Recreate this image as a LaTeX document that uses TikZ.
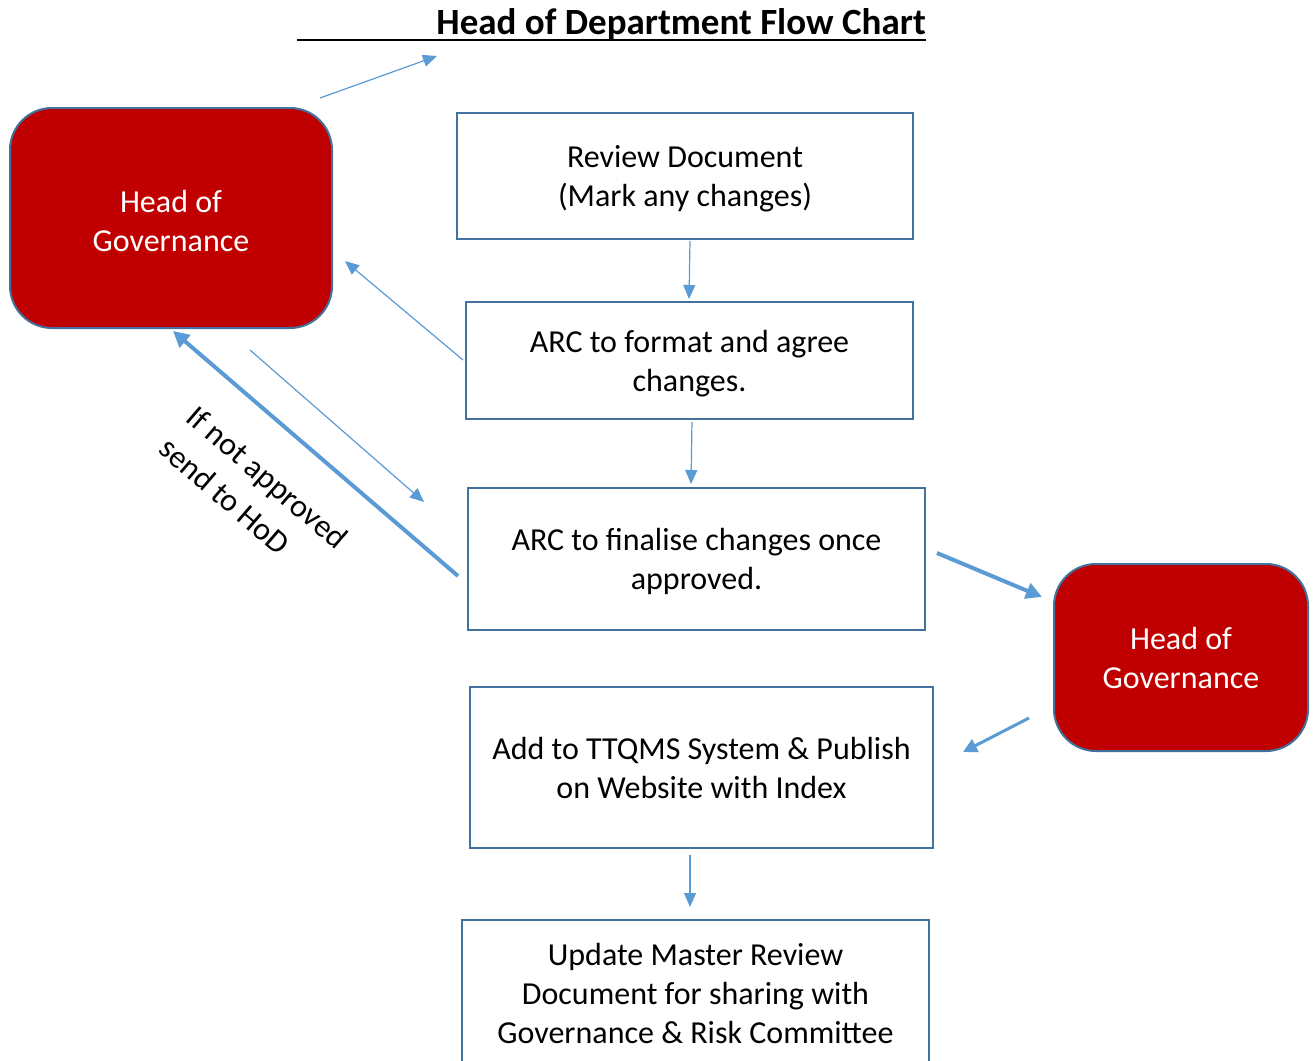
\documentclass[tikz,border=0pt]{standalone}
\usepackage{fontspec}
\setmainfont{Carlito}
\usetikzlibrary{arrows.meta}
\definecolor{boxline}{HTML}{41719C}
\definecolor{arr}{HTML}{5B9BD5}
\definecolor{hred}{HTML}{C00000}
\newcommand{\mystrut}{\rule{0pt}{28pt}}
\tikzset{
  stepbox/.style={draw=boxline, line width=2pt, fill=white, align=center, inner sep=0pt, font=\fontsize{32}{39}\selectfont},
  govbox/.style={draw=boxline, line width=2pt, fill=hred, rounded corners=42pt, align=center, inner sep=0pt, text=white, font=\fontsize{32}{39}\selectfont},
  thinarr/.style={draw=arr, line width=1.2pt, -{Triangle[length=14pt,width=12pt]}},
  thickarr/.style={draw=arr, line width=4pt, -{Triangle[length=16pt,width=16pt]}},
  medarr/.style={draw=arr, line width=3pt, -{Triangle[length=14pt,width=14pt]}},
}
\begin{document}
\begin{tikzpicture}[x=1pt,y=-1pt]
\clip (0,0) rectangle (1314,1060);
\fill[white] (0,0) rectangle (1314,1060);

% title
\node[anchor=base east, inner sep=0pt, font=\fontsize{37}{42}\selectfont\bfseries] (title) at (926,34) {Head of Department Flow Chart};
\coordinate (ulstart) at (297,40);
\draw[line width=2.2pt] (ulstart) -- (title.base east |- ulstart);

% nodes
\node[govbox, minimum width=322pt, minimum height=220pt] (hog1) at (171,218) {\mystrut Head of\\Governance};
\node[stepbox, minimum width=456pt, minimum height=126pt] (b1) at (685,176) {\mystrut Review Document\\(Mark any changes)};
\node[stepbox, minimum width=447pt, minimum height=117pt] (b2) at (689.5,360.5) {\mystrut ARC to format and agree\\changes.};
\node[stepbox, minimum width=457pt, minimum height=142pt] (b3) at (696.5,559) {\mystrut ARC to finalise changes once\\approved.};
\node[govbox, minimum width=254pt, minimum height=187pt] (hog2) at (1181,657.5) {Head of\\Governance};
\node[stepbox, minimum width=463pt, minimum height=161pt] (b4) at (701.5,767.5) {Add to TTQMS System \& Publish\\on Website with Index};
\node[stepbox, minimum width=467pt, minimum height=170pt, anchor=north] (b5) at (695.5,919) {};
\node[font=\fontsize{32}{39}\selectfont, align=center, inner sep=0pt] (b5t) at (695.5,993) {Update Master Review\\Document for sharing with\\Governance \& Risk Committee};

% free ends / coordinates
\coordinate (t1s) at (320,98);
\coordinate (t1e) at (437,56);
\coordinate (a2s) at (463,360);
\coordinate (a2e) at (345,261);
\coordinate (a3s) at (250,350);
\coordinate (a3e) at (424,502);
\coordinate (a4s) at (458,576);
\coordinate (a4e) at (173,331);
\coordinate (a5s) at (937,553);
\coordinate (a5e) at (1042,597);
\coordinate (a6s) at (1029,718);
\coordinate (a6e) at (963,752);

% connectors
\draw[thinarr] (t1s) -- (t1e);
\draw[thinarr, shorten <=1pt, shorten >=2pt] (b1.south -| 690,0) -- (b2.north -| 689,0);
\draw[thinarr, shorten <=2pt, shorten >=3pt] (b2.south -| 692,0) -- (b3.north -| 691,0);
\draw[thinarr] (a2s) -- (a2e);
\draw[thinarr] (a3s) -- (a3e);
\draw[thickarr] (a4s) -- (a4e);
\draw[thickarr] (a5s) -- (a5e);
\draw[medarr] (a6s) -- (a6e);
\draw[thinarr, shorten <=6pt, shorten >=12pt] (b4.south -| 690,0) -- (b5.north -| 690,0);

% label
\node[rotate=-40.7, anchor=north west, align=left, inner sep=0pt, font=\fontsize{32}{42}\selectfont] (lbl) at (199,403) {If not approved\\send to HoD};
\end{tikzpicture}
\end{document}
